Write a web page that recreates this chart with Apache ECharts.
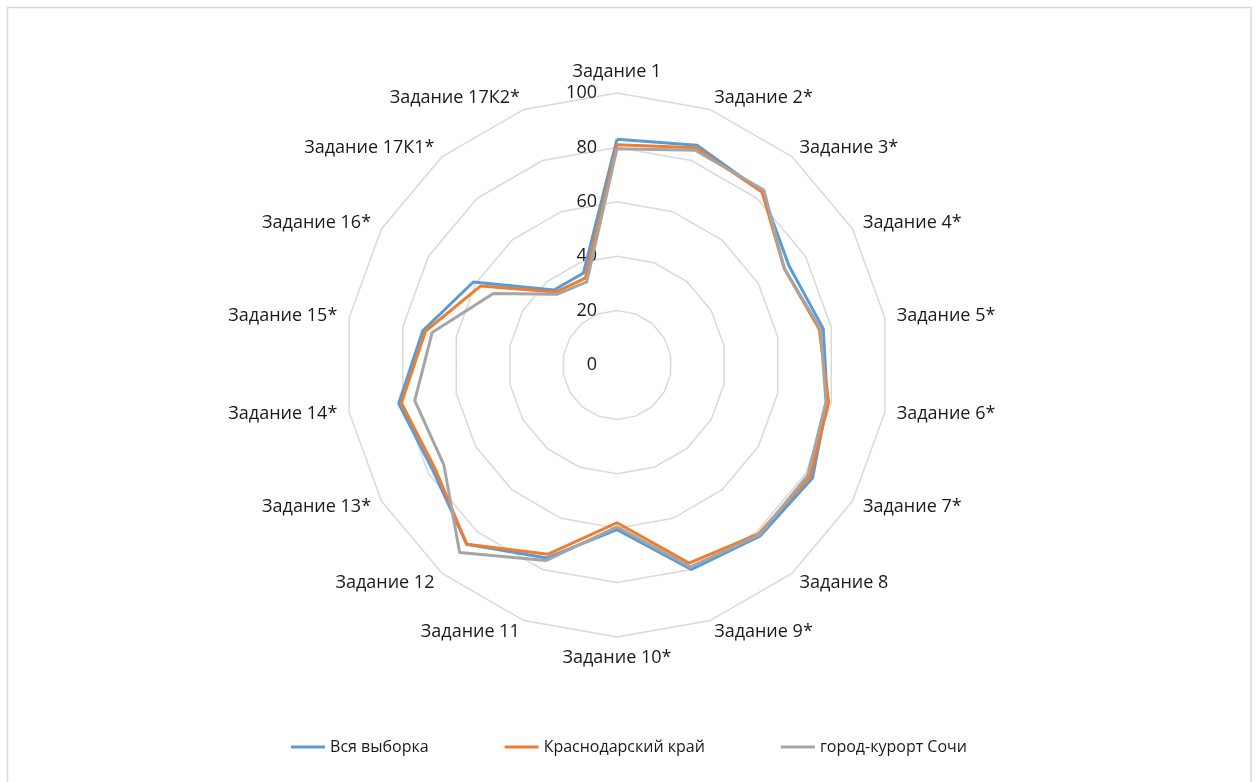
<!DOCTYPE html>
<html>
<head>
<meta charset="utf-8">
<script src="https://cdn.jsdelivr.net/npm/echarts@6/dist/echarts.min.js"></script>
<style>
html,body{margin:0;padding:0;background:#fff;}
#chart{width:1258px;height:782px;}
</style>
</head>
<body>
<div id="chart"></div>
<script>
const categories = ['Задание 1','Задание 2*','Задание 3*','Задание 4*','Задание 5*','Задание 6*','Задание 7*','Задание 8','Задание 9*','Задание 10*','Задание 11','Задание 12','Задание 13*','Задание 14*','Задание 15*','Задание 16*','Задание 17К1*','Задание 17К2*'];
const seriesNames = ['Вся выборка','Краснодарский край','город-курорт Сочи'];
const allSample = [83, 86, 83, 73, 77, 78.5, 83, 82, 80, 60.5, 75.5, 86, 78, 81.5, 72.5, 61, 36, 36];
const krasnodar = [81, 85, 83, 71, 75.5, 79, 82, 81, 77.5, 58, 74, 86, 77, 80.5, 71.5, 58, 35, 34];
const sochi = [79.5, 84, 84, 71, 76, 78, 81, 81.5, 79, 59.5, 76.5, 90, 73.5, 75.5, 69, 52.5, 34, 32.5];
const tickValues = [0, 20, 40, 60, 80, 100];
const colors = ['#5B9BD5', '#ED7D31', '#A5A5A5'];

// ECharts places radar indicators counter-clockwise; reorder so they run clockwise
const order = [0].concat(categories.map((_, i) => i).slice(1).reverse());
const reorder = arr => order.map(i => arr[i]);

const font = "'Open Sans', sans-serif";
const textColor = '#1a1a1a';

const chart = echarts.init(document.getElementById('chart'), null, {renderer: 'canvas'});
chart.setOption({
  backgroundColor: '#fff',
  animation: false,
  textStyle: {fontFamily: font},
  graphic: [{
    type: 'rect', shape: {x: 7.5, y: 7.5, width: 1243.5, height: 800},
    style: {fill: 'none', stroke: '#D9D9D9', lineWidth: 1.5}, silent: true, z: -10
  }],
  legend: {
    bottom: 22,
    left: 'center',
    icon: 'path://M0,0 L34,0 L34,3 L0,3 Z',
    itemWidth: 34, itemHeight: 3, itemGap: 76,
    textStyle: {fontSize: 16, color: textColor, fontFamily: font},
    data: seriesNames
  },
  radar: {
    center: [617, 365],
    radius: 272,
    startAngle: 90,
    shape: 'polygon',
    splitNumber: 5,
    indicator: reorder(categories).map(n => ({name: n, min: 0, max: 100})),
    axisName: {color: textColor, fontSize: 18, fontFamily: font},
    nameGap: 12,
    axisLine: {show: false},
    axisTick: {show: false},
    axisLabel: {show: false},
    splitArea: {show: false},
    splitLine: {lineStyle: {color: '#D9D9D9', width: 1.5}}
  },
  polar: {center: [617, 365], radius: 272},
  angleAxis: {type: 'value', startAngle: 90, min: 0, max: 360, show: false},
  radiusAxis: {
    type: 'value', min: 0, max: 100, interval: 20,
    axisLine: {show: false}, axisTick: {show: false}, splitLine: {show: false},
    axisLabel: {
      fontSize: 18, color: textColor, fontFamily: font, margin: 20,
      formatter: v => tickValues.includes(v) ? String(v) : ''
    }
  },
  series: [{
    type: 'radar',
    symbol: 'none',
    data: [
      {name: seriesNames[0], value: reorder(allSample), lineStyle: {color: colors[0], width: 3}, itemStyle: {color: colors[0]}},
      {name: seriesNames[1], value: reorder(krasnodar), lineStyle: {color: colors[1], width: 3}, itemStyle: {color: colors[1]}},
      {name: seriesNames[2], value: reorder(sochi), lineStyle: {color: colors[2], width: 3}, itemStyle: {color: colors[2]}}
    ]
  }]
});
</script>
</body>
</html>
